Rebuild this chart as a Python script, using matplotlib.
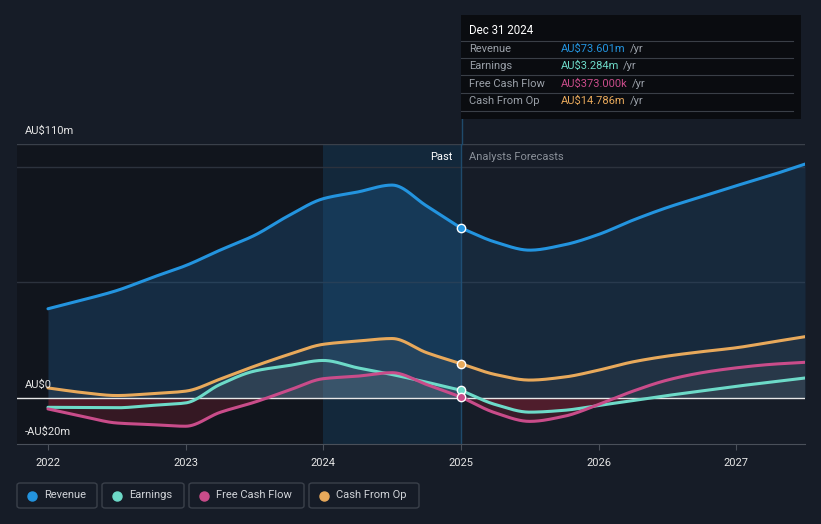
import numpy as np
import matplotlib
matplotlib.use("Agg")
import matplotlib.pyplot as plt
from matplotlib.patches import Rectangle, FancyBboxPatch
from matplotlib.lines import Line2D

plt.rcParams['font.family'] = ['Roboto', 'DejaVu Sans']

# ---------------- data (AU$ m) ----------------
past_t = [2022.0, 2022.25, 2022.5, 2022.75, 2023.0, 2023.25, 2023.5, 2023.75,
          2024.0, 2024.25, 2024.5, 2024.75, 2025.0]
fc_t = [2025.0, 2025.25, 2025.5, 2025.75, 2026.0, 2026.25, 2026.5, 2026.75,
        2027.0, 2027.25, 2027.5]

rev_past = [38.6, 42.4, 46.5, 52.0, 57.3, 64.0, 70.4, 79.0, 86.3, 89.2, 92.2, 83.2, 73.6]
rev_fc = [73.6, 67.5, 64.0, 66.3, 70.8, 77.0, 82.5, 87.2, 91.9, 96.4, 101.3]

earn_past = [-4.1, -4.2, -4.3, -3.3, -2.2, 5.8, 11.6, 14.0, 16.2, 13.0, 10.1, 6.8, 3.284]
earn_fc = [3.284, -2.9, -6.2, -5.4, -3.3, -1.2, 1.0, 3.0, 5.0, 6.8, 8.6]

fcf_past = [-4.8, -8.0, -10.9, -11.6, -12.3, -6.3, -1.9, 3.3, 8.3, 9.4, 10.9, 5.8, 0.373]
fcf_fc = [0.373, -6.5, -10.2, -8.0, -2.9, 2.9, 7.7, 10.9, 13.0, 14.5, 15.4]

cfo_past = [4.3, 2.3, 1.0, 1.8, 2.9, 8.1, 13.7, 18.8, 23.2, 24.6, 25.7, 19.6, 14.786]
cfo_fc = [14.786, 10.1, 7.7, 9.0, 12.0, 15.6, 18.1, 20.0, 21.7, 24.1, 26.5]

series_names = ["Revenue", "Earnings", "Free Cash Flow", "Cash From Op"]
series_colors = ["#2394df", "#6ddac8", "#c94c8a", "#e8a95b"]
tooltip_values = ["AU$73.601m", "AU$3.284m", "AU$373.000k", "AU$14.786m"]
year_ticks = [2022, 2023, 2024, 2025, 2026, 2027]
y_tick_labels = ["AU$110m", "AU$0", "-AU$20m"]

BG = "#161c27"
DARK = "#11151d"
HIGHLIGHT = "#13283b"


def smooth(x, y, n=30):
    """Monotone cubic (Fritsch-Carlson) curve for drawing only."""
    x = np.asarray(x, float)
    y = np.asarray(y, float)
    h = np.diff(x)
    d = np.diff(y) / h
    m = np.zeros_like(y)
    m[0], m[-1] = d[0], d[-1]
    for i in range(1, len(y) - 1):
        if d[i - 1] * d[i] <= 0:
            m[i] = 0
        else:
            w1 = 2 * h[i] + h[i - 1]
            w2 = h[i] + 2 * h[i - 1]
            m[i] = (w1 + w2) / (w1 / d[i - 1] + w2 / d[i])
    xs, ys = [], []
    for i in range(len(x) - 1):
        t = np.linspace(0, 1, n, endpoint=(i == len(x) - 2))
        h00 = 2 * t**3 - 3 * t**2 + 1
        h10 = t**3 - 2 * t**2 + t
        h01 = -2 * t**3 + 3 * t**2
        h11 = t**3 - t**2
        xs.append(x[i] + t * h[i])
        ys.append(h00 * y[i] + h10 * h[i] * m[i] + h01 * y[i + 1] + h11 * h[i] * m[i + 1])
    return np.concatenate(xs), np.concatenate(ys)


fig = plt.figure(figsize=(8.21, 5.24), dpi=100, facecolor=BG)
ax = fig.add_axes([17 / 821, 1 - 444 / 524, (805 - 17) / 821, 300 / 524])
ax.set_facecolor(BG)
xmin, xmax = 2021.775, 2027.5
ax.set_xlim(xmin, xmax)
ax.set_ylim(-20, 110)

ax.axvspan(xmin, 2024.0, color=DARK, zorder=0, lw=0)
ax.axvspan(2024.0, 2025.0, color=HIGHLIGHT, zorder=0, lw=0)

for g in [100, 50]:
    ax.axhline(g, color="#2c323d", lw=1, zorder=1)
ax.axhline(110, color="#3a404a", lw=1, zorder=1)
ax.axhline(0, color="#e8e8e8", lw=1, zorder=4)
ax.axvline(2025.0, color="#1f4a6b", lw=1, zorder=1)

past = [rev_past, earn_past, fcf_past, cfo_past]
fc = [rev_fc, earn_fc, fcf_fc, cfo_fc]

for i, (p, f, c) in enumerate(zip(past, fc, series_colors)):
    xp, yp = smooth(past_t, p)
    xf, yf = smooth(fc_t, f)
    if i == 0:
        ax.fill_between(xp, yp, 0, color="#1f5f94", alpha=0.32, lw=0, zorder=2)
        ax.fill_between(xf, yf, 0, color="#1f5f94", alpha=0.2, lw=0, zorder=2)
    else:
        for xx, yy, a in [(xp, yp, 0.10), (xf, yf, 0.07)]:
            ax.fill_between(xx, yy, 0, where=yy >= 0, interpolate=True,
                            color="#9aa0a0", alpha=a, lw=0, zorder=2)
            ax.fill_between(xx, yy, 0, where=yy < 0, interpolate=True,
                            color="#7a1f30", alpha=0.35, lw=0, zorder=2)
    ax.plot(xp, yp, color=c, lw=2.2, zorder=5, solid_capstyle="round")
    ax.plot(xf, yf, color=c, lw=2.2, zorder=5, solid_capstyle="round")
    ax.plot([past_t[-1]], [p[-1]], "o", ms=6, color=c, mec="white", mew=1, zorder=6)

for s in ["top", "right", "left"]:
    ax.spines[s].set_visible(False)
ax.spines["bottom"].set_color("#4a505a")
ax.set_yticks([])
ax.set_xticks(year_ticks)
ax.set_xticklabels([str(y) for y in year_ticks])
ax.tick_params(axis="x", colors="#4a505a", labelcolor="#e6e6e6", labelsize=8, length=4, pad=6)

fig.text(25 / 821, 1 - 131 / 524, y_tick_labels[0], color="#e6e6e6", fontsize=8, va="center")
fig.text(25 / 821, 1 - 385 / 524, y_tick_labels[1], color="#e6e6e6", fontsize=8, va="center")
fig.text(25 / 821, 1 - 432 / 524, y_tick_labels[2], color="#e6e6e6", fontsize=8, va="center")

ax.text(2025.0 - 0.06, 104.5, "Past", color="#ffffff", fontsize=8, ha="right", va="center", zorder=7)
ax.text(2025.0 + 0.06, 104.5, "Analysts Forecasts", color="#8a9099", fontsize=8, ha="left", va="center", zorder=7)

fig.add_artist(Line2D([462 / 821, 462 / 821], [1 - 144 / 524, 1 - 119 / 524], color="#1f4a6b", lw=1))

# tooltip
fig.add_artist(Rectangle((461 / 821, 1 - 119 / 524), 340 / 821, 104 / 524,
                         facecolor="#0a0c10", edgecolor="none", zorder=10))
fig.text(469 / 821, 1 - 31 / 524, "Dec 31 2024", color="white", fontsize=8.3, va="center", zorder=11)
row_y = [49, 66, 84, 101]
for y0 in [41, 58, 75, 93, 111]:
    fig.add_artist(Line2D([461 / 821, 793 / 821], [1 - y0 / 524, 1 - y0 / 524],
                          color="#3a3f47", lw=0.8, zorder=11))
for ry, name, val, col in zip(row_y, series_names, tooltip_values, series_colors):
    fig.text(469 / 821, 1 - ry / 524, name, color="#9aa0a8", fontsize=8, va="center", zorder=11)
    t = fig.text(561 / 821, 1 - ry / 524, val, color=col, fontsize=8, va="center", zorder=11)
    fig.canvas.draw()
    bb = t.get_window_extent()
    fig.text((bb.x1 + 4) / 821, 1 - ry / 524, "/yr", color="#9aa0a8", fontsize=8, va="center", zorder=11)

# legend
boxes = [(17, 97), (102, 184), (189, 304), (309, 419)]
for (x0, x1), name, col in zip(boxes, series_names, series_colors):
    fig.add_artist(FancyBboxPatch((x0 / 821, 1 - 508 / 524), (x1 - x0) / 821, 25 / 524,
                                  boxstyle="round,pad=0,rounding_size=0.004",
                                  facecolor="none", edgecolor="#3a404a", lw=1))
    fig.add_artist(Line2D([(x0 + 15) / 821], [1 - 495.5 / 524], marker="o", ms=6.5,
                          color=col, lw=0))
    fig.text((x0 + 27) / 821, 1 - 495.5 / 524, name, color="#d0d3d8", fontsize=8, va="center")

fig.savefig("out.png", dpi=100, facecolor=BG)
